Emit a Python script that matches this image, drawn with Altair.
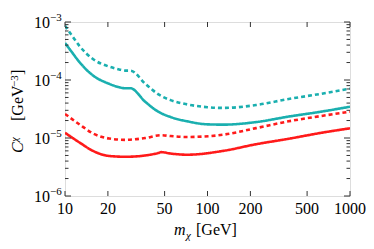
import altair as alt
import pandas as pd

# ---- data ----
m_ts = [10, 11.2, 12.7, 15.7, 20.4, 24, 26.6, 28.8, 36.6, 45, 55, 72, 100, 129, 219, 371, 631, 1000]
c_ts = [4.35e-4, 3.0e-4, 2.0e-4, 1.2e-4, 8.6e-5, 7.5e-5, 7.2e-5, 7.2e-5, 4.2e-5, 2.85e-5, 2.3e-5, 1.94e-5, 1.72e-5, 1.7e-5, 1.88e-5, 2.34e-5, 2.85e-5, 3.46e-5]

m_td = [10, 11.2, 12.7, 15.7, 20.4, 24, 26.6, 28.8, 36.6, 45, 55, 72, 100, 129, 219, 371, 631, 1000]
c_td = [8.6e-4, 5.8e-4, 3.8e-4, 2.3e-4, 1.7e-4, 1.52e-4, 1.45e-4, 1.45e-4, 8.6e-5, 5.7e-5, 4.5e-5, 3.8e-5, 3.4e-5, 3.3e-5, 3.7e-5, 4.7e-5, 5.8e-5, 7.1e-5]

m_rs = [10, 12.7, 15.7, 20.4, 26.6, 36.6, 45, 47.5, 55, 72, 129, 219, 371, 631, 1000]
c_rs = [1.23e-5, 8.3e-6, 6.0e-6, 4.9e-6, 4.75e-6, 5.0e-6, 5.5e-6, 5.7e-6, 5.4e-6, 5.15e-6, 6.0e-6, 7.8e-6, 9.7e-6, 1.23e-5, 1.47e-5]

m_rd = [10, 12.7, 15.7, 20.4, 26.6, 36.6, 47.5, 55, 72, 129, 219, 371, 631, 1000]
c_rd = [2.6e-5, 1.7e-5, 1.2e-5, 9.8e-6, 9.3e-6, 1.0e-5, 1.12e-5, 1.08e-5, 1.04e-5, 1.14e-5, 1.48e-5, 1.94e-5, 2.4e-5, 2.85e-5]

series_names = ["teal solid", "teal dashed", "red solid", "red dashed"]
series_colors = ["#1aafaf", "#1aafaf", "#ff1a1a", "#ff1a1a"]
series_dash = [[1, 0], [4, 3], [1, 0], [4, 3]]

x_ticks = [10, 20, 50, 100, 200, 500, 1000]
x_labels = ["10", "20", "50", "100", "200", "500", "1000"]
y_major = [1e-6, 1e-5, 1e-4, 1e-3]
y_exp = ["\u22126", "\u22125", "\u22124", "\u22123"]
y_minor = [k * 10.0 ** e for e in (-6, -5, -4) for k in range(2, 10)]

W, H = 285, 174
FONT = "Times New Roman, Liberation Serif, serif"

rows = []
for name, ms, cs in zip(series_names, [m_ts, m_td, m_rs, m_rd], [c_ts, c_td, c_rs, c_rd]):
    for m, c in zip(ms, cs):
        rows.append({"series": name, "m": m, "C": c})
df = pd.DataFrame(rows)

xs = alt.Scale(type="log", domain=[10, 1000], nice=False)
ys = alt.Scale(type="log", domain=[1e-6, 1e-3], nice=False)

lines = alt.Chart(df).mark_line(strokeWidth=2.6, interpolate="monotone", clip=True).encode(
    x=alt.X("m:Q", scale=xs, axis=None),
    y=alt.Y("C:Q", scale=ys, axis=None),
    color=alt.Color("series:N", scale=alt.Scale(domain=series_names, range=series_colors), legend=None),
    strokeDash=alt.StrokeDash("series:N", scale=alt.Scale(domain=series_names, range=series_dash), legend=None),
    detail="series:N",
)

tick_col = "#333333"
xt = pd.DataFrame({"v": x_ticks, "lab": x_labels})
ymj = pd.DataFrame({"v": y_major, "e": y_exp})
ymn = pd.DataFrame({"v": y_minor})

def xrule(y0, y1):
    return alt.Chart(xt).mark_rule(color=tick_col, strokeWidth=1).encode(
        x=alt.X("v:Q", scale=xs, axis=None), y=alt.value(y0), y2=alt.value(y1))

def yrule(d, x0, x1):
    return alt.Chart(d).mark_rule(color=tick_col, strokeWidth=1).encode(
        y=alt.Y("v:Q", scale=ys, axis=None), x=alt.value(x0), x2=alt.value(x1))

ticks = [xrule(H, H - 5), xrule(0, 5),
         yrule(ymj, 0, 6), yrule(ymj, W, W - 6),
         yrule(ymn, 0, 3.5), yrule(ymn, W, W - 3.5)]

xlab = alt.Chart(xt).mark_text(font=FONT, fontSize=16, align="center", baseline="alphabetic").encode(
    x=alt.X("v:Q", scale=xs, axis=None), y=alt.value(H + 18), text="lab:N")
ylab10 = alt.Chart(ymj).mark_text(font=FONT, fontSize=16, align="right", baseline="alphabetic").encode(
    y=alt.Y("v:Q", scale=ys, axis=None), x=alt.value(-15), text=alt.value("10"), yOffset=alt.value(6))
ylabexp = alt.Chart(ymj).mark_text(font=FONT, fontSize=11, align="left", baseline="alphabetic").encode(
    y=alt.Y("v:Q", scale=ys, axis=None), x=alt.value(-15), text="e:N", yOffset=alt.value(-1))

def txt(s, x, y, size=16, style="normal", angle=0, align="left"):
    return alt.Chart(pd.DataFrame({"t": [s]})).mark_text(
        font=FONT, fontSize=size, fontStyle=style, angle=angle, align=align, baseline="alphabetic"
    ).encode(x=alt.value(x), y=alt.value(y), text="t:N")

titles = [
    txt("m", 109, 213, style="italic"),
    txt("\u03c7", 121, 217, size=11, style="italic"),
    txt("[GeV]", 131, 213),
    txt("C", -42, 131, style="italic", angle=270),
    txt("\u03c7", -47, 120, size=11, style="italic", angle=270),
    txt("[GeV", -42, 99, angle=270),
    txt("\u22123", -47, 65, size=11, angle=270),
    txt("]", -42, 53, angle=270),
]

chart = alt.layer(lines, *ticks, xlab, ylab10, ylabexp, *titles).properties(
    width=W, height=H,
    autosize=alt.AutoSizeParams(type="none"),
    padding={"left": 57, "top": 14, "right": 16, "bottom": 45},
).configure_view(stroke="#333333", strokeWidth=1.2).configure(background="white")

chart.save("out.html", embed_options={"renderer": "svg", "actions": False})
